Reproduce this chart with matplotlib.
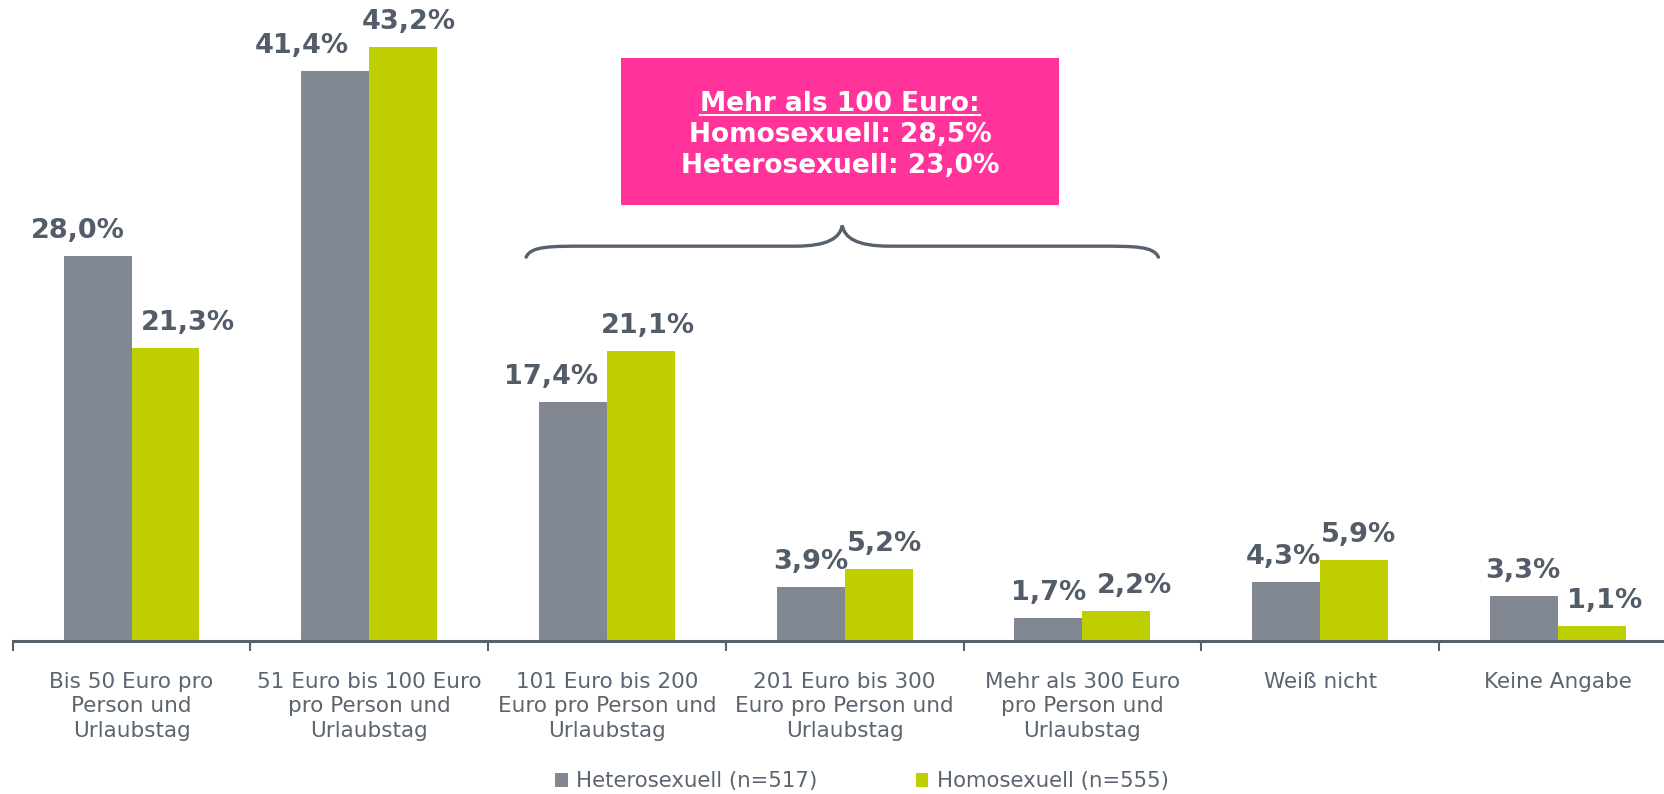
import numpy as np
import matplotlib
matplotlib.use("Agg")
import matplotlib.pyplot as plt
from matplotlib.patches import Patch, Rectangle, PathPatch
from matplotlib.path import Path
from matplotlib.lines import Line2D

# data
kategorien = ["Bis 50 Euro pro\nPerson und\nUrlaubstag",
              "51 Euro bis 100 Euro\npro Person und\nUrlaubstag",
              "101 Euro bis 200\nEuro pro Person und\nUrlaubstag",
              "201 Euro bis 300\nEuro pro Person und\nUrlaubstag",
              "Mehr als 300 Euro\npro Person und\nUrlaubstag",
              "Weiß nicht",
              "Keine Angabe"]
hetero = [28.0, 41.4, 17.4, 3.9, 1.7, 4.3, 3.3]
homo = [21.3, 43.2, 21.1, 5.2, 2.2, 5.9, 1.1]
serien = ["Heterosexuell (n=517)", "Homosexuell (n=555)"]
box_titel = "Mehr als 100 Euro:"
box_zeilen = ["Homosexuell: 28,5%", "Heterosexuell: 23,0%"]

grau = "#818891"
gruen = "#BFCE00"
dunkel = "#56616B"
textfarbe = "#5A6570"
pink = "#FF3399"

plt.rcParams['font.family'] = ['DejaVu Sans']

fig = plt.figure(figsize=(16.64, 7.94), dpi=100)
ax = fig.add_axes([0.0076, 0.1927, 1.0, 0.797])

x = np.arange(len(kategorien))
w = 0.286
ax.bar(x - w/2, hetero, w, color=grau)
ax.bar(x + w/2, homo, w, color=gruen)

ax.set_xlim(-0.5, len(kategorien) - 0.5)
ax.set_ylim(0, 46)

# value labels (small horizontal nudges like in the original slide)
dx1 = [-14, -24, -16, 0, 0, -2, -1]
dx2 = [16, 4, 5, 4, 13, 3, 9]
for i in range(len(x)):
    ax.annotate(f"{hetero[i]:.1f}%".replace(".", ","), (x[i] - w/2, hetero[i]),
                xytext=(dx1[i], 18), textcoords="offset points", ha="center", va="center",
                fontsize=19.5, fontweight="bold", color="#525D69", annotation_clip=False)
    ax.annotate(f"{homo[i]:.1f}%".replace(".", ","), (x[i] + w/2, homo[i]),
                xytext=(dx2[i], 18), textcoords="offset points", ha="center", va="center",
                fontsize=19.5, fontweight="bold", color="#525D69", annotation_clip=False)

# axes styling
for s in ["top", "right", "left"]:
    ax.spines[s].set_visible(False)
ax.spines["bottom"].set_color(dunkel)
ax.spines["bottom"].set_linewidth(2.2)
ax.set_yticks([])
ax.set_xticks(x)
ax.set_xticklabels(kategorien, fontsize=15.5, color=textfarbe, linespacing=1.3, va="top")
ax.tick_params(axis="x", which="major", length=0, pad=22)
ax.set_xticks(np.arange(-0.5, len(kategorien), 1), minor=True)
ax.tick_params(axis="x", which="minor", length=7, width=1.5, color=dunkel, direction="out")

# pink box
ax.add_patch(Rectangle((2.06, 31.7), 1.84, 10.7, facecolor=pink, edgecolor="none", clip_on=False))
t1 = ax.text(2.98, 39.0, box_titel, ha="center", va="center", fontsize=19,
             fontweight="bold", color="white")
ax.text(2.98, 36.75, box_zeilen[0], ha="center", va="center", fontsize=19,
        fontweight="bold", color="white")
ax.text(2.98, 34.5, box_zeilen[1], ha="center", va="center", fontsize=19,
        fontweight="bold", color="white")

# brace
c, hw = 2.99, 1.33
yf, ye, yt = 28.7, 27.9, 30.2
verts = [(c-hw, ye),
         (c-hw+0.02, yf), (c-hw+0.1, yf), (c-hw+0.25, yf),
         (c-0.2, yf),
         (c-0.06, yf), (c-0.01, yf+0.6), (c, yt),
         (c+0.01, yf+0.6), (c+0.06, yf), (c+0.2, yf),
         (c+hw-0.25, yf),
         (c+hw-0.1, yf), (c+hw-0.02, yf), (c+hw, ye)]
codes = [Path.MOVETO,
         Path.CURVE4, Path.CURVE4, Path.CURVE4,
         Path.LINETO,
         Path.CURVE4, Path.CURVE4, Path.CURVE4,
         Path.CURVE4, Path.CURVE4, Path.CURVE4,
         Path.LINETO,
         Path.CURVE4, Path.CURVE4, Path.CURVE4]
ax.add_patch(PathPatch(Path(verts, codes), fill=False, edgecolor=dunkel, lw=2.4,
                       capstyle="round", clip_on=False))

# legend
handles = [Patch(facecolor=grau), Patch(facecolor=gruen)]
fig.legend(handles, serien, loc="center", bbox_to_anchor=(0.518, 0.016), ncol=2,
           frameon=False, fontsize=15.3, handlelength=0.6, handleheight=0.6,
           handletextpad=0.4, columnspacing=4.6, labelcolor=textfarbe)

# underline for the box title
fig.canvas.draw()
bb = t1.get_window_extent()
inv = fig.transFigure.inverted()
p0 = inv.transform((bb.x0, bb.y0 + 2))
p1 = inv.transform((bb.x1, bb.y0 + 2))
fig.add_artist(Line2D([p0[0], p1[0]], [p0[1], p1[1]], color="white", lw=1.5))

fig.savefig("out.png", dpi=100)
